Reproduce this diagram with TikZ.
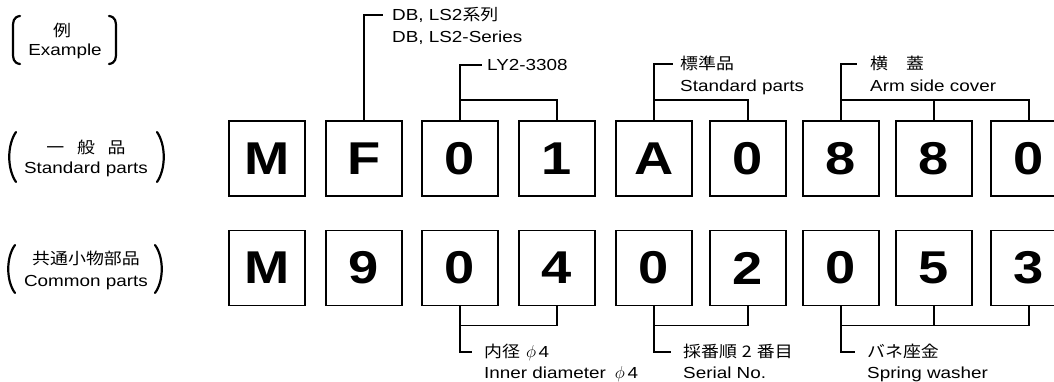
\documentclass[tikz,border=0pt]{standalone}
\usepackage{fontspec}
\setmainfont{Liberation Sans}[FakeStretch=1.18]
\newfontfamily\jp{Noto Sans CJK JP}[FakeStretch=1.12]
\usepackage{tikz}
\usetikzlibrary{positioning}

\tikzset{
  digit/.style={draw, line width=1.8pt, minimum width=76pt, minimum height=75pt,
                inner sep=0pt, font=\fontsize{46}{46}\selectfont\bfseries},
  lbl/.style={anchor=west, inner sep=0pt, text height=11.5pt, text depth=0pt,
              font=\fontsize{16}{22}\selectfont},
  side/.style={inner sep=0pt, text height=11.5pt, text depth=0pt,
               font=\fontsize{16}{22}\selectfont},
  wire/.style={line width=1.6pt},
  paren/.style={line width=2.2pt, line cap=round}
}

\begin{document}
\begin{tikzpicture}[x=1pt, y=-1pt]
\useasboundingbox[fill=white] (0,0) rectangle (1054,382);

% Left column - row titles
\node[side] (ex) at (62,31) {\jp 例};
\node[side] (exE) at (65,50) {Example};
\draw[paren] (20,16) .. controls (13,17) and (13,22) .. (13,28) -- (13,52)
             .. controls (13,58) and (13,63) .. (20,64);
\draw[paren] (109,16) .. controls (116,17) and (116,22) .. (116,28) -- (116,52)
             .. controls (116,58) and (116,63) .. (109,64);

\node[side] (std) at (86,148) {\jp 一\hspace{0.8em}般\hspace{0.8em}品};
\node[side] (stdE) at (86,167.5) {Standard parts};
\draw[paren] (16,132) .. controls (7,145) and (7,169) .. (16,182);
\draw[paren] (157,132) .. controls (166,145) and (166,169) .. (157,182);

\node[side] (com) at (86,258.5) {\jp 共通小物部品};
\node[side] (comE) at (86,281) {Common parts};
\draw[paren] (15,245) .. controls (6,257) and (6,281) .. (15,293);
\draw[paren] (155,245) .. controls (164,257) and (164,281) .. (155,293);

% Row 1 - standard parts
\node[digit] (t1) at (267,158.5) {M};
\node[digit] (t2) at (364,158.5) {F};
\node[digit] (t3) at (460,158.5) {0};
\node[digit] (t4) at (557,158.5) {1};
\node[digit] (t5) at (654,158.5) {A};
\node[digit] (t6) at (748,158.5) {0};
\node[digit] (t7) at (841,158.5) {8};
\node[digit] (t8) at (934,158.5) {8};
\node[digit] (t9) at (1029,158.5) {0};

% Row 2 - common parts
\node[digit] (b1) at (267,268) {M};
\node[digit] (b2) at (364,268) {9};
\node[digit] (b3) at (460,268) {0};
\node[digit] (b4) at (557,268) {4};
\node[digit] (b5) at (654,268) {0};
\node[digit] (b6) at (748,268) {2};
\node[digit] (b7) at (841,268) {0};
\node[digit] (b8) at (934,268) {5};
\node[digit] (b9) at (1029,268) {3};

% Top callouts
\node[lbl] (series) at (392,15) {DB, LS2{\jp 系列}};
\node[lbl] (seriesE) at ([yshift=-22pt]series.west) {DB, LS2-Series};
\draw[wire] (t2.north) |- ([xshift=-9pt]series.west);

\node[lbl] (model) at (487,65) {LY2-3308};
\draw[wire] (t3.north) |- ([xshift=-5pt]model.west);
\draw[wire] (t3.north) ++(0,-20) -| (t4.north);

\node[lbl] (kind) at (680,64) {\jp 標準品};
\node[lbl] (kindE) at ([yshift=-22pt]kind.west) {Standard parts};
\draw[wire] (t5.north) |- ([xshift=-7pt]kind.west);
\draw[wire] (t5.north) ++(0,-20) -| (t6.north);

\node[lbl] (cover) at (870,64) {\jp 横　蓋};
\node[lbl] (coverE) at ([yshift=-22pt]cover.west) {Arm side cover};
\draw[wire] (t7.north) |- ([xshift=-13pt]cover.west);
\draw[wire] (t7.north) ++(0,-20) -| (t9.north);
\draw[wire] (t8.north) -- ++(0,-20);

% Bottom callouts
\node[lbl] (dia) at (484,352) {{\jp 内径}\hspace{6pt}$\phi$\,4};
\node[lbl] (diaE) at ([yshift=-21pt]dia.west) {Inner diameter\hspace{9pt}$\phi$\,4};
\draw[wire] (b3.south) |- ([xshift=-12pt]dia.west);
\draw[wire] (b3.south) ++(0,19) -| (b4.south);

\node[lbl] (serial) at (683,352) {\jp 採番順\hspace{5pt}2\hspace{5pt}番目};
\node[lbl] (serialE) at ([yshift=-21pt]serial.west) {Serial No.};
\draw[wire] (b5.south) |- ([xshift=-12pt]serial.west);
\draw[wire] (b5.south) ++(0,19) -| (b6.south);

\node[lbl] (washer) at (867,352) {\jp バネ座金};
\node[lbl] (washerE) at ([yshift=-21pt]washer.west) {Spring washer};
\draw[wire] (b7.south) |- ([xshift=-12pt]washer.west);
\draw[wire] (b7.south) ++(0,19) -| (b9.south);
\draw[wire] (b8.south) -- ++(0,19);
\end{tikzpicture}
\end{document}
